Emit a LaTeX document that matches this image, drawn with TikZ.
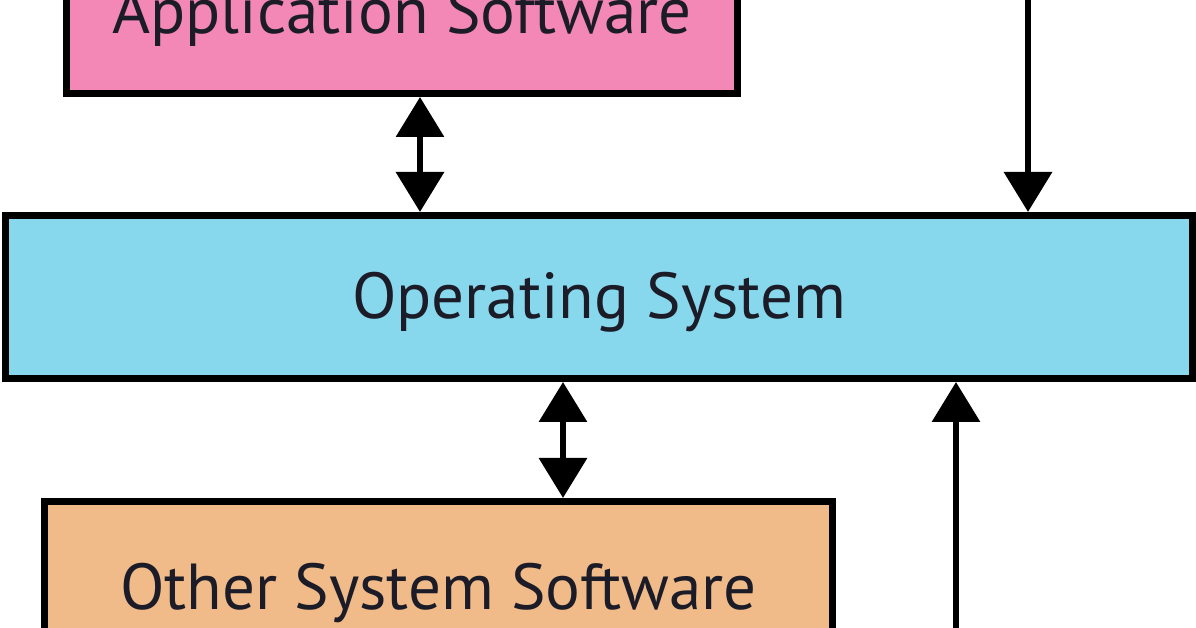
\documentclass[tikz,border=0pt]{standalone}
\usepackage{fontspec}
\setmainfont{PT Sans}
\usetikzlibrary{arrows.meta}
\definecolor{apppink}{RGB}{243,135,181}
\definecolor{osblue}{RGB}{135,216,236}
\definecolor{sysorange}{RGB}{240,187,137}
\definecolor{textnavy}{RGB}{28,28,40}
\begin{document}
\begin{tikzpicture}[
    layer/.style={draw=black,line width=0.14cm,minimum height=3.26cm,inner sep=0pt,
        text height=0.88cm,text depth=0pt,
        text=textnavy,font=\fontsize{37}{42}\selectfont},
    flow/.style={line width=0.13cm,-{Triangle[width=0.94cm,length=0.8cm]}},
    dflow/.style={line width=0.13cm,{Triangle[width=0.94cm,length=0.8cm]}-{Triangle[width=0.94cm,length=0.8cm]}}]
        \useasboundingbox (0,0) rectangle (23.92,12.56);
        \node[layer,fill=apppink,minimum width=13.42cm] (app) at (8.04,12.32) {Application Software};
        \node[layer,fill=osblue,minimum width=23.74cm] (os) at (11.98,6.62) {Operating System};
        \node[layer,fill=sysorange,minimum width=15.76cm,minimum height=3.44cm] (other) at (8.77,0.81) {Other System Software};
        \coordinate (in) at (20.56,12.9);
        \coordinate (out) at (19.12,-0.3);
        \draw[dflow] ([xshift=0.36cm]app.south)--([xshift=0.36cm]app.south |- os.north);
        \draw[dflow] ([xshift=-0.72cm]os.south)--([xshift=-0.72cm]os.south |- other.north);
        \draw[flow] (in)--(in |- os.north);
        \draw[flow] (out)--(out |- os.south);
    \end{tikzpicture}
\end{document}
